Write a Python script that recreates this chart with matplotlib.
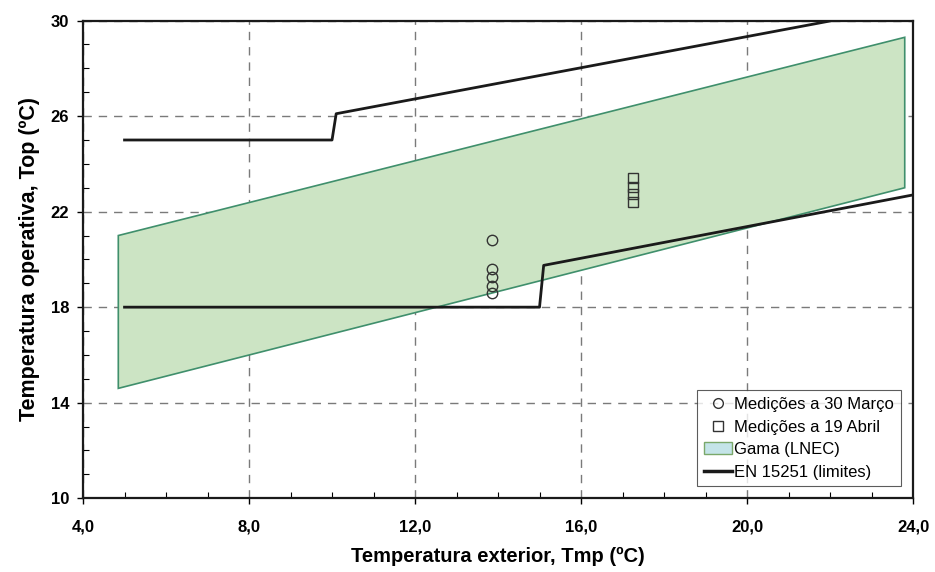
import matplotlib.pyplot as plt
from matplotlib.patches import Patch
from matplotlib.lines import Line2D
from matplotlib.ticker import MultipleLocator, FixedLocator, FuncFormatter

plt.rcParams['font.family'] = ['Liberation Sans', 'DejaVu Sans']

# comfort band (LNEC) polygon vertices
band_x = [4.85, 23.8, 23.8, 4.85]
band_y = [21.0, 29.3, 23.0, 14.6]

# EN 15251 limits
en_up_x = [5.0, 10.0, 10.1, 22.05]
en_up_y = [25.0, 25.0, 26.1, 30.0]
en_lo_x = [5.0, 15.0, 15.1, 24.0]
en_lo_y = [18.0, 18.0, 19.75, 22.7]

# measurements
mar_x = [13.85, 13.85, 13.85, 13.85, 13.85]
mar_y = [20.8, 19.6, 19.25, 18.9, 18.6]
abr_x = [17.25, 17.25, 17.25, 17.25]
abr_y = [23.4, 23.05, 22.75, 22.4]

x_ticks = [4, 8, 12, 16, 20, 24]
y_ticks = [10, 14, 18, 22, 26, 30]

fig = plt.figure(figsize=(9.35, 5.72), dpi=100)
ax = fig.add_axes([0.0888, 0.129, 0.8877, 0.835])

ax.fill(band_x, band_y, facecolor='#cce4c4', edgecolor='#3f8f6c', linewidth=1.2, zorder=2)
ax.plot(en_up_x, en_up_y, color='#1a1a1a', lw=2.0, zorder=3)
ax.plot(en_lo_x, en_lo_y, color='#1a1a1a', lw=2.0, zorder=3)
ax.plot(mar_x, mar_y, 'o', ms=7.5, mfc='none', mec='#333333', mew=1.0, ls='none', zorder=4)
ax.plot(abr_x, abr_y, 's', ms=6.5, mfc='none', mec='#333333', mew=1.0, ls='none', zorder=4)

ax.set_xlim(4, 24)
ax.set_ylim(10, 30)
ax.xaxis.set_major_locator(FixedLocator(x_ticks))
ax.xaxis.set_minor_locator(MultipleLocator(1))
ax.yaxis.set_major_locator(FixedLocator(y_ticks))
ax.yaxis.set_minor_locator(MultipleLocator(1))
ax.xaxis.set_major_formatter(FuncFormatter(lambda v, p: f'{v:.1f}'.replace('.', ',')))
ax.yaxis.set_major_formatter(FuncFormatter(lambda v, p: f'{v:.0f}'))

ax.grid(True, which='major', color='#7a7a7a', ls=(0, (6, 5)), lw=1.0, zorder=1)
ax.tick_params(which='major', direction='out', length=4, width=1, labelsize=12)
ax.tick_params(axis='x', which='major', pad=11)
ax.tick_params(axis='y', which='major', pad=6)
ax.tick_params(which='minor', direction='in', length=4, width=0.8)
for lab in ax.get_xticklabels() + ax.get_yticklabels():
    lab.set_fontweight('bold')
for s in ax.spines.values():
    s.set_linewidth(1.6)
    s.set_color('#1a1a1a')

ax.set_xlabel('Temperatura exterior, Tmp (ºC)', fontsize=14.5, fontweight='bold', labelpad=9)
ax.set_ylabel('Temperatura operativa, Top (ºC)', fontsize=15.5, fontweight='bold', labelpad=8)

handles = [
    Line2D([], [], marker='o', ls='none', mfc='none', mec='#333333', ms=7),
    Line2D([], [], marker='s', ls='none', mfc='none', mec='#333333', ms=7),
    Patch(facecolor='#c4e4e8', edgecolor='#7aa86a'),
    Line2D([], [], color='#1a1a1a', lw=2.5),
]
labels = ['Medições a 30 Março', 'Medições a 19 Abril', 'Gama (LNEC)', 'EN 15251 (limites)']
leg = ax.legend(handles, labels, loc='lower right', bbox_to_anchor=(0.9855, 0.025),
                fontsize=12, frameon=True, fancybox=False, edgecolor='#333333',
                handlelength=1.7, handletextpad=0.15, borderpad=0.4, labelspacing=0.45,
                borderaxespad=0)
leg.get_frame().set_linewidth(0.8)

fig.savefig('out.png', dpi=100)
